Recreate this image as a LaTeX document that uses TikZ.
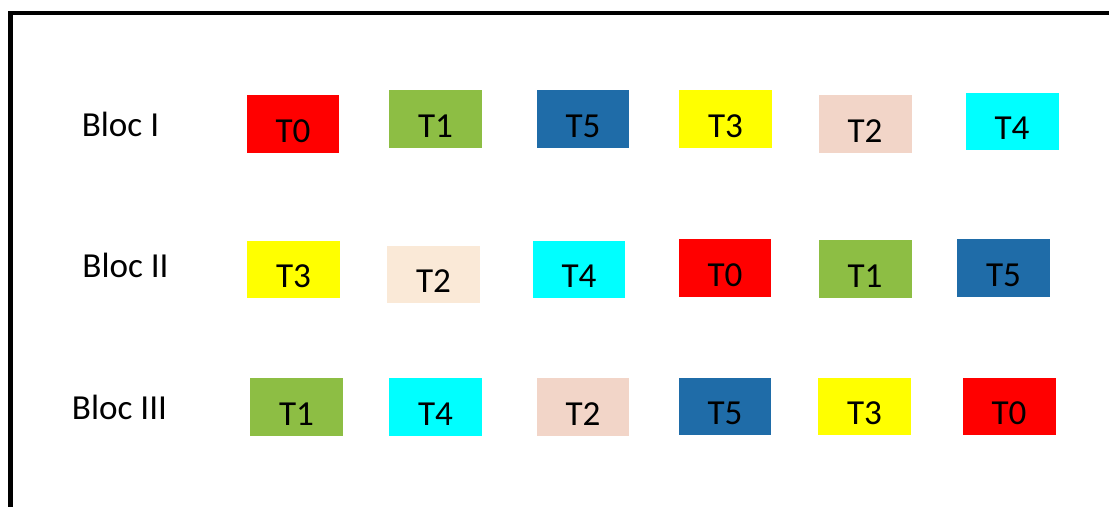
\documentclass[tikz,border=0pt]{standalone}
\usepackage{fontspec}
\setmainfont{Carlito}
\usepackage{tikz}
\definecolor{trouge}{RGB}{255,0,0}
\definecolor{tvert}{RGB}{141,190,68}
\definecolor{tbleu}{RGB}{31,108,168}
\definecolor{tjaune}{RGB}{255,255,0}
\definecolor{tcyan}{RGB}{0,255,255}
\definecolor{trose}{RGB}{242,213,200}
\definecolor{tbeige}{RGB}{250,233,215}
\tikzset{
    tache/.style={minimum width=1.86cm, minimum height=1.16cm, inner sep=0pt,
        font=\fontsize{20}{24}\selectfont, text height=0.73cm, text depth=0cm},
    blocnom/.style={inner sep=0pt, font=\fontsize{20}{24}\selectfont,
        text height=0.454cm, text depth=0cm}
}

\begin{document}
\begin{tikzpicture}[x=0.02cm, y=-0.02cm]
            \useasboundingbox (0,0) rectangle (1109,507);
            % Cadre (ouvert en bas et a droite)
            \draw[line width=0.095cm] (10.5,507) -- (10.5,13) -- (1109,13);

            % Bloc I
            \node[blocnom] (nomI) at (120.5,125) {Bloc I};
            \node[tache, fill=trouge] (b1t0) at (293,124) {T0};
            \node[tache, fill=tvert] (b1t1) at (435.5,119) {T1};
            \node[tache, fill=tbleu] (b1t5) at (583,119) {T5};
            \node[tache, fill=tjaune] (b1t3) at (725.5,119) {T3};
            \node[tache, fill=trose] (b1t2) at (865,124) {T2};
            \node[tache, fill=tcyan] (b1t4) at (1012,121.5) {T4};

            % Bloc II
            \node[blocnom] (nomII) at (125.5,266) {Bloc II};
            \node[tache, fill=tjaune] (b2t3) at (293.5,269.5) {T3};
            \node[tache, fill=tbeige] (b2t2) at (433.5,274.5) {T2};
            \node[tache, fill=tcyan] (b2t4) at (579,269.5) {T4};
            \node[tache, fill=trouge] (b2t0) at (725,268) {T0};
            \node[tache, fill=tvert] (b2t1) at (865,269) {T1};
            \node[tache, fill=tbleu] (b2t5) at (1003.5,268) {T5};

            % Bloc III
            \node[blocnom] (nomIII) at (119.5,408.5) {Bloc III};
            \node[tache, fill=tvert] (b3t1) at (296.5,407) {T1};
            \node[tache, fill=tcyan] (b3t4) at (435.5,407) {T4};
            \node[tache, fill=trose] (b3t2) at (583,407) {T2};
            \node[tache, fill=tbleu] (b3t5) at (725,406.5) {T5};
            \node[tache, fill=tjaune] (b3t3) at (864.5,406.5) {T3};
            \node[tache, fill=trouge] (b3t0) at (1009,406.5) {T0};
        \end{tikzpicture}
\end{document}
